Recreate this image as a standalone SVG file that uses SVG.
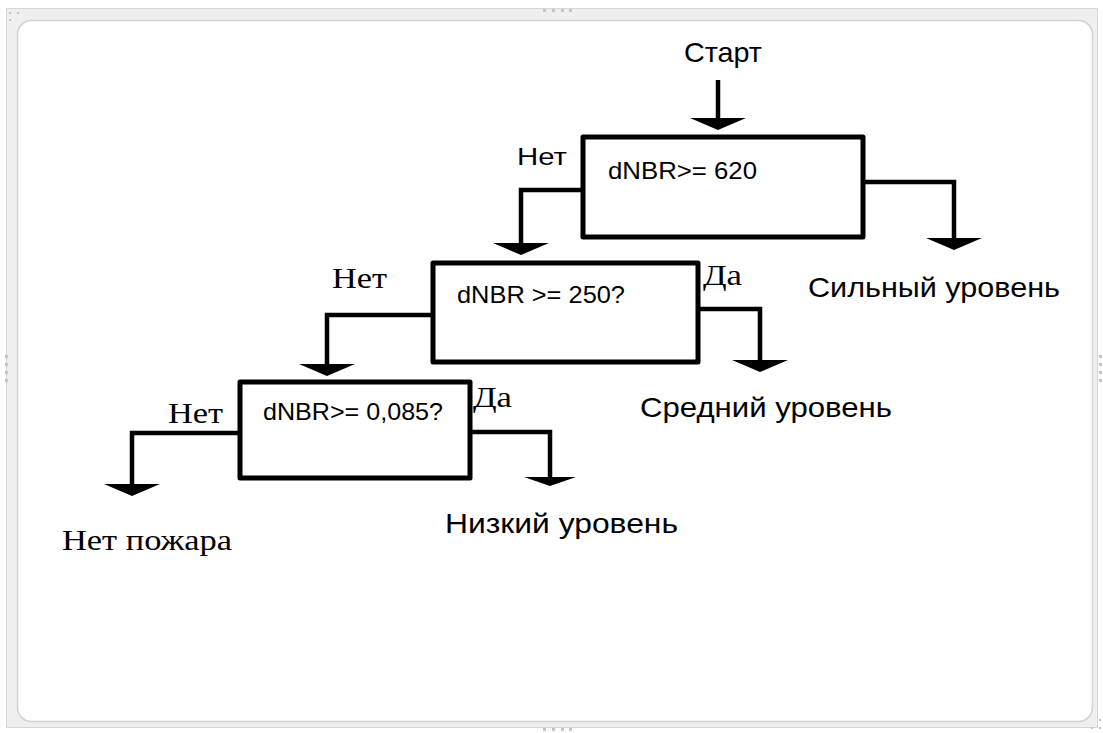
<svg xmlns="http://www.w3.org/2000/svg" xmlns:xlink="http://www.w3.org/1999/xlink" width="1103" height="733" viewBox="0 0 1103 733">
<style>
.box{fill:#fff;stroke:#000;stroke-width:5;stroke-linejoin:round}
.ln{fill:none;stroke:#000;stroke-width:4.5;stroke-linejoin:miter}
.sans{font-family:"Liberation Sans",Arial,sans-serif;fill:#000}
.serif{font-family:"Liberation Serif","Times New Roman",serif;fill:#000}
.big{font-size:28px}
.mid{font-size:24px}
.lab{font-size:29px}
.dot{fill:#c4c4c4}
</style>
<defs>
<path id="ah" d="M-28,0 L28,0 L0,12 Z" fill="#000"/>
</defs>
<g id="frame">
<rect x="6.5" y="8.5" width="1091" height="719" fill="#efefef" stroke="#d6d6d6" stroke-width="1"/>
<rect x="17.5" y="20.5" width="1075" height="701" rx="14" fill="#fff" stroke="#d2d2d2" stroke-width="1.5"/>
<rect class="dot" x="9" y="12" width="2" height="2"/><rect class="dot" x="17" y="12" width="2" height="2"/><rect class="dot" x="9" y="19" width="2" height="2"/>
<rect class="dot" x="1099" y="719" width="2" height="2"/><rect class="dot" x="1091" y="727" width="2" height="2"/><rect class="dot" x="1099" y="727" width="2" height="2"/>
<rect class="dot" x="543" y="728" width="3" height="3"/><rect class="dot" x="552" y="728" width="3" height="3"/><rect class="dot" x="561" y="728" width="3" height="3"/><rect class="dot" x="569" y="728" width="3" height="3"/>
<rect class="dot" x="543" y="9" width="3" height="3"/><rect class="dot" x="552" y="9" width="3" height="3"/><rect class="dot" x="561" y="9" width="3" height="3"/><rect class="dot" x="569" y="9" width="3" height="3"/>
<rect class="dot" x="1099" y="355" width="3" height="3"/><rect class="dot" x="1099" y="363" width="3" height="3"/><rect class="dot" x="1099" y="371" width="3" height="3"/><rect class="dot" x="1099" y="379" width="3" height="3"/>
<rect class="dot" x="5" y="355" width="3" height="3"/><rect class="dot" x="5" y="363" width="3" height="3"/><rect class="dot" x="5" y="371" width="3" height="3"/><rect class="dot" x="5" y="379" width="3" height="3"/>
</g>
<g id="connectors">
<path class="ln" d="M718,80 V122"/>
<use xlink:href="#ah" x="718" y="118"/>
<path class="ln" d="M583,190 H521 V246"/>
<use xlink:href="#ah" x="521" y="243"/>
<path class="ln" d="M863,182 H954 V241"/>
<use xlink:href="#ah" x="954" y="238"/>
<path class="ln" d="M433,315 H327 V368"/>
<use xlink:href="#ah" x="327" y="364"/>
<path class="ln" d="M698,309 H760 V363"/>
<use xlink:href="#ah" x="760" y="360"/>
<path class="ln" d="M240,433 H132 V487"/>
<use xlink:href="#ah" x="132" y="484"/>
<path class="ln" d="M470,432 H550 V479"/>
<use xlink:href="#ah" x="550" y="477" transform="translate(550 477) scale(0.93 0.75) translate(-550 -477)"/>
</g>
<g id="start">
<text class="sans big" x="684" y="62" textLength="78" lengthAdjust="spacingAndGlyphs">Старт</text>
</g>
<g id="node1">
<rect class="box" x="583" y="137" width="280" height="100"/>
<text class="sans mid" x="608" y="179" textLength="149" lengthAdjust="spacingAndGlyphs">dNBR&gt;= 620</text>
</g>
<g id="node2">
<rect class="box" x="433" y="263" width="265" height="99"/>
<text class="sans mid" x="457" y="303" textLength="168" lengthAdjust="spacingAndGlyphs">dNBR &gt;= 250?</text>
</g>
<g id="node3">
<rect class="box" x="240" y="382" width="230" height="96"/>
<text class="sans mid" x="263" y="420" textLength="180" lengthAdjust="spacingAndGlyphs">dNBR&gt;= 0,085?</text>
</g>
<g id="labels">
<text class="sans mid" x="517" y="165" textLength="50" lengthAdjust="spacingAndGlyphs">Нет</text>
<text class="serif lab" x="332" y="288" textLength="55" lengthAdjust="spacingAndGlyphs">Нет</text>
<text class="serif lab" x="703" y="285" textLength="39" lengthAdjust="spacingAndGlyphs">Да</text>
<text class="serif lab" x="168" y="423" textLength="55" lengthAdjust="spacingAndGlyphs">Нет</text>
<text class="serif lab" x="473" y="407" textLength="39" lengthAdjust="spacingAndGlyphs">Да</text>
</g>
<g id="out-strong">
<text class="sans big" x="808" y="297" textLength="252" lengthAdjust="spacingAndGlyphs">Сильный уровень</text>
</g>
<g id="out-medium">
<text class="sans big" x="640" y="417" textLength="252" lengthAdjust="spacingAndGlyphs">Средний уровень</text>
</g>
<g id="out-low">
<text class="sans big" x="445" y="533" textLength="233" lengthAdjust="spacingAndGlyphs">Низкий уровень</text>
</g>
<g id="out-none">
<text class="serif lab" x="62" y="550" textLength="170" lengthAdjust="spacingAndGlyphs">Нет пожара</text>
</g>
</svg>
